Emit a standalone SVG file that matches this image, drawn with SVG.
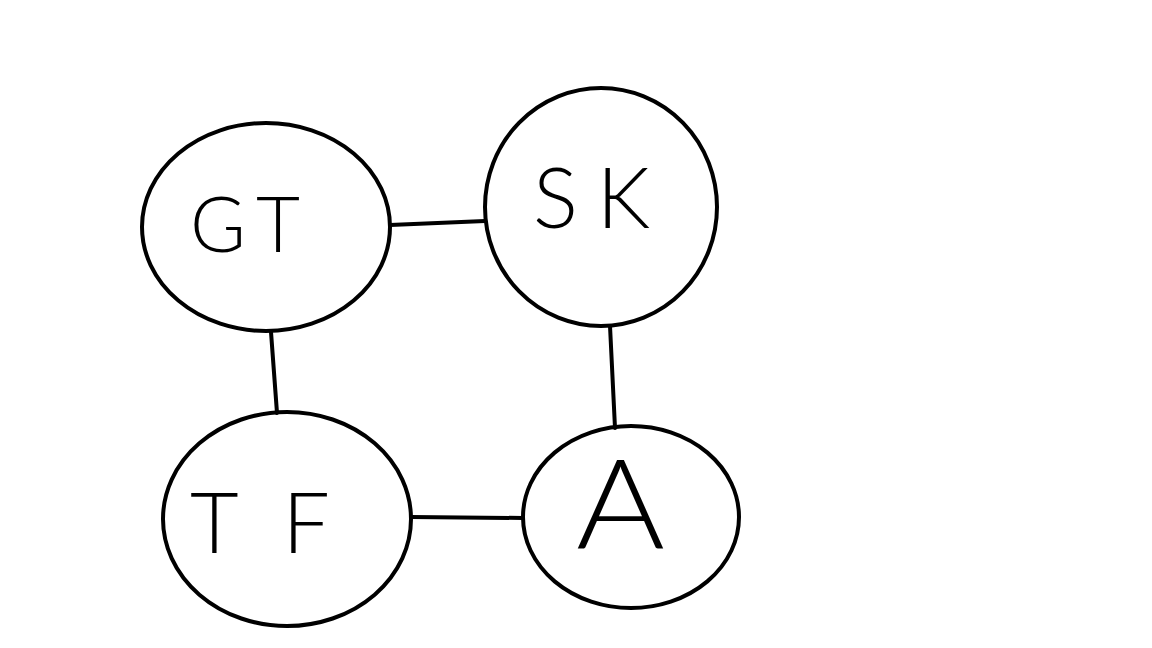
<svg xmlns="http://www.w3.org/2000/svg" width="1152" height="648" viewBox="0 0 1152 648">
<style>
.node{fill:none;stroke:#000;stroke-width:4}
.edge{stroke:#000;stroke-width:4;stroke-linecap:round}
.lbl{font-family:Lato,"Liberation Sans",sans-serif;font-weight:300;fill:#000}
</style>
<rect width="1152" height="648" fill="#fff"/>
<g id="connectors">
<line class="edge" x1="390" y1="225" x2="485" y2="221"/>
<line class="edge" x1="271" y1="332" x2="277" y2="413"/>
<line class="edge" x1="610" y1="326" x2="615" y2="428"/>
<line class="edge" x1="411" y1="517" x2="523" y2="518"/>
</g>
<g id="GT">
<ellipse class="node" cx="266" cy="227" rx="124" ry="104"/>
<text class="lbl" x="190" y="252" font-size="76" textLength="110" lengthAdjust="spacing">GT</text>
</g>
<g id="SK">
<ellipse class="node" cx="601" cy="207" rx="116" ry="119"/>
<text class="lbl" x="533" y="228" font-size="84" textLength="117" lengthAdjust="spacing">SK</text>
</g>
<g id="TF">
<ellipse class="node" cx="287" cy="519" rx="124" ry="107"/>
<text class="lbl" x="190" y="553" font-size="84" textLength="140" lengthAdjust="spacing">TF</text>
</g>
<g id="A">
<ellipse class="node" cx="631" cy="517" rx="108" ry="91"/>
<text class="lbl" x="576" y="548" font-size="124" textLength="89" lengthAdjust="spacingAndGlyphs">A</text>
</g>
</svg>
